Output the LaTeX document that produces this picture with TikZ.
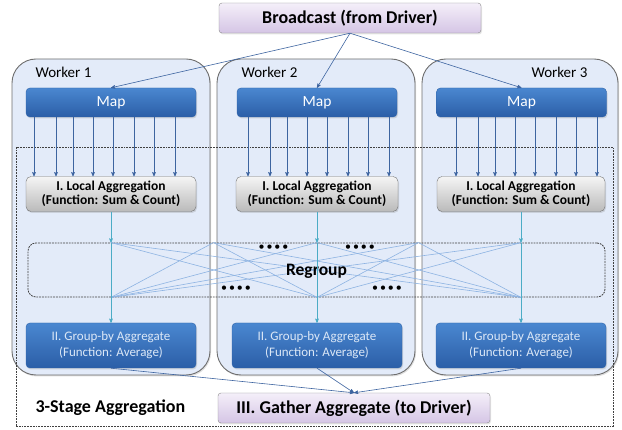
\documentclass[tikz,border=0pt]{standalone}
\usepackage{fontspec}
\setmainfont{Carlito}
\usepackage{tikz}
\usetikzlibrary{arrows,positioning,shadows}

\definecolor{wkfill}{HTML}{E3EBF9}
\definecolor{wkedge}{HTML}{6E6E6E}
\definecolor{bluetop}{HTML}{4A87D0}
\definecolor{bluebot}{HTML}{2B5EA7}
\definecolor{blueedge}{HTML}{2F63A8}
\definecolor{gbtext}{HTML}{DCE8F7}
\definecolor{drvtop}{HTML}{F4EFF9}
\definecolor{drvbot}{HTML}{D5C5E5}
\definecolor{drvedge}{HTML}{8A8A8A}
\definecolor{arrowblue}{HTML}{3D64A0}
\definecolor{cyanline}{HTML}{4BACC6}
\definecolor{meshblue}{HTML}{8DB3E2}

\begin{document}
\begin{tikzpicture}[x=1pt,y=-1pt,>=stealth',
  worker/.style={draw=wkedge,fill=wkfill,line width=0.9pt,rounded corners=24pt,
    minimum width=198pt,minimum height=316pt,inner sep=0pt,
    drop shadow={opacity=0.25,shadow xshift=1pt,shadow yshift=-1.5pt}},
  wlabel/.style={anchor=west,font=\fontsize{15}{17}\selectfont},
  mapbox/.style={draw=blueedge,top color=bluetop,bottom color=bluebot,rounded corners=4pt,
    minimum height=29pt,inner sep=0pt,text=white,font=\fontsize{15.5}{18}\selectfont,
    drop shadow={opacity=0.25,shadow xshift=1pt,shadow yshift=-1.5pt}},
  localbox/.style={draw=black!55,top color=black!4,bottom color=black!27,rounded corners=5pt,
    minimum height=35pt,inner sep=0pt,align=center,
    font=\bfseries\fontsize{13.5}{14}\selectfont,
    drop shadow={opacity=0.25,shadow xshift=1pt,shadow yshift=-1.5pt}},
  groupbox/.style={mapbox,minimum height=45pt,align=center,text=gbtext,
    font=\fontsize{13}{16}\selectfont},
  drvbox/.style={draw=drvedge,top color=drvtop,bottom color=drvbot,rounded corners=3pt,
    minimum height=30pt,inner sep=0pt,font=\bfseries\fontsize{18}{20}\selectfont,
    drop shadow={opacity=0.2,shadow xshift=1pt,shadow yshift=-1.5pt}},
  stagebox/.style={draw=black!75,dash pattern=on 1.8pt off 1pt,line width=0.8pt,inner sep=0pt},
  dots/.style={font=\fontsize{12}{12}\selectfont},
  bcastarrow/.style={->,draw=arrowblue,line width=0.6pt},
  maparrow/.style={->,draw=arrowblue,line width=0.6pt},
  cyanarrow/.style={->,draw=cyanline,line width=0.6pt},
  mesh/.style={draw=meshblue,line width=0.6pt}]

  \useasboundingbox (0,0) rectangle (622,430);

  % workers
  \node[worker] (w1) at (111,217) {};
  \node[worker] (w2) at (316,217) {};
  \node[worker,minimum width=196pt] (w3) at (520,217) {};
  \node[wlabel] (l1) at (32,72) {Worker 1};
  \node[wlabel] (l2) at (238,72) {Worker 2};
  \node[wlabel] (l3) at (528,72) {Worker 3};

  % dashed frames
  \node[stagebox,minimum width=597pt,minimum height=279pt] (stage) at (314.5,286.5) {};
  \node[stagebox,rounded corners=8pt,minimum width=577pt,minimum height=54pt] (rg) at (316.5,270) {};

  \node[drvbox,minimum width=262pt] (bcast) at (350,18) {Broadcast (from Driver)};

  \node[mapbox,minimum width=170pt] (m1) at (111,102.5) {Map};
  \node[mapbox,minimum width=160pt] (m2) at (317,102.5) {Map};
  \node[mapbox,minimum width=170pt] (m3) at (521.5,102.5) {Map};

  \node[localbox,minimum width=170pt] (la1) at (111,194) {I. Local Aggregation\\(Function: Sum \& Count)};
  \node[localbox,minimum width=162pt] (la2) at (317,194) {I. Local Aggregation\\(Function: Sum \& Count)};
  \node[localbox,minimum width=168pt] (la3) at (521,194) {I. Local Aggregation\\(Function: Sum \& Count)};

  \node[groupbox,minimum width=170pt] (gb1) at (111,345.5) {II. Group-by Aggregate\\(Function: Average)};
  \node[groupbox,minimum width=170pt] (gb2) at (317,345.5) {II. Group-by Aggregate\\(Function: Average)};
  \node[groupbox,minimum width=170pt] (gb3) at (521,345.5) {II. Group-by Aggregate\\(Function: Average)};

  \node[drvbox,minimum width=272pt] (gather) at (354,408) {III. Gather Aggregate (to Driver)};
  \node[anchor=west,font=\bfseries\fontsize{18}{20}\selectfont]
    (stagelbl) at (32,408) {3-Stage Aggregation};

  % broadcast and map outputs
  \foreach \m in {1,2,3}
    \draw[bcastarrow] (bcast.south) -- (m\m.north);
  \foreach \m/\s in {1/34,2/248,3/456}
    \foreach \d in {0,22,39,59,79,100,120,141}
      \draw[maparrow] (\s+\d,0 |- m\m.south) -- (\s+\d,0 |- la\m.north);

  % regroup
  \foreach \m in {1,2,3} {
    \coordinate (t\m) at (la\m.south |- rg.north);
    \coordinate (b\m) at (la\m.south |- rg.south);
  }
  \coordinate (gu1) at (213.5,0 |- rg.north);
  \coordinate (gu2) at (418.5,0 |- rg.north);
  \foreach \i/\j in {1/2,1/3,2/1,2/3,3/1,3/2}
    \draw[mesh] (t\i) -- (b\j);
  \foreach \g in {1,2}
    \foreach \j in {1,2,3}
      \draw[mesh] (gu\g) -- (b\j);

  \node[font=\bfseries\fontsize{17.5}{20}\selectfont] (rgtext) at (316.5,271) {Regroup};
  \node[dots] (d1) at (273.5,248) {•\,•\,•\,•};
  \node[dots] (d2) at (360,248) {•\,•\,•\,•};
  \node[dots] (d3) at (236,289) {•\,•\,•\,•};
  \node[dots] (d4) at (387,289) {•\,•\,•\,•};

  \foreach \m in {1,2,3} {
    \draw[cyanarrow] (la\m.south) -- (t\m);
    \draw[cyanarrow] (t\m) -- (gb\m.north);
    \draw[maparrow] (gb\m.south) -- (gather.north);
  }
\end{tikzpicture}
\end{document}
